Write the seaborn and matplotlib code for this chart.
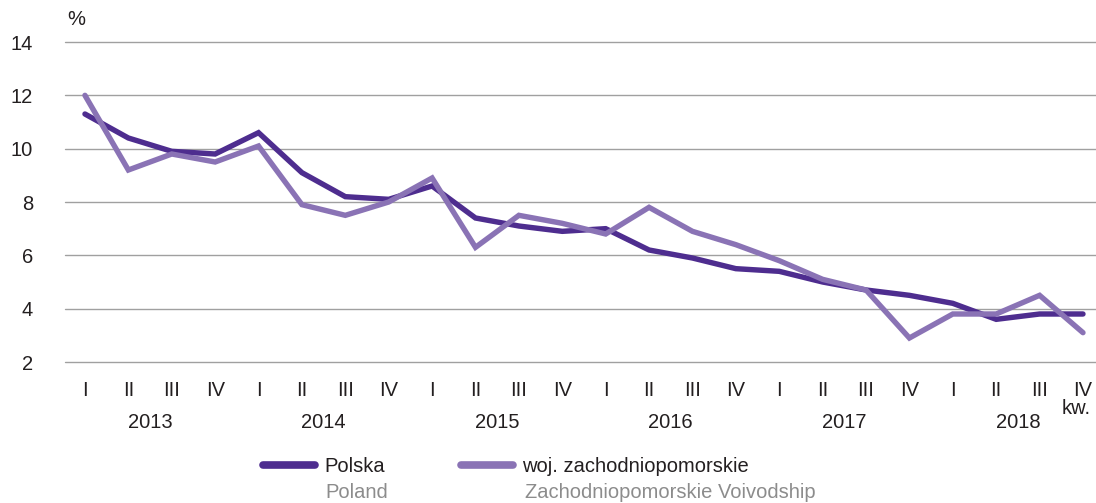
import matplotlib
matplotlib.use('Agg')
import matplotlib.pyplot as plt
import matplotlib.transforms as mtransforms
from matplotlib.lines import Line2D
import seaborn as sns
import numpy as np
import pandas as pd

# dane kwartalne 2013-2018
years = ['2013', '2014', '2015', '2016', '2017', '2018']
quarters = ['I', 'II', 'III', 'IV']
polska = [11.3, 10.4, 9.9, 9.8, 10.6, 9.1, 8.2, 8.1,
          8.6, 7.4, 7.1, 6.9, 7.0, 6.2, 5.9, 5.5,
          5.4, 5.0, 4.7, 4.5, 4.2, 3.6, 3.8, 3.8]
zachodniopomorskie = [12.0, 9.2, 9.8, 9.5, 10.1, 7.9, 7.5, 8.0,
                      8.9, 6.3, 7.5, 7.2, 6.8, 7.8, 6.9, 6.4,
                      5.8, 5.1, 4.7, 2.9, 3.8, 3.8, 4.5, 3.1]
series_names = ['Polska', 'woj. zachodniopomorskie']
series_names_en = ['Poland', 'Zachodniopomorskie Voivodship']
colors = ['#4e2d8f', '#8a73b5']

n = len(polska)
df = pd.DataFrame({
    'idx': list(range(n)) * 2,
    'value': polska + zachodniopomorskie,
    'series': [series_names[0]] * n + [series_names[1]] * n,
})

sns.set_theme(style='white')
fonts = ['Liberation Sans Narrow', 'Liberation Sans', 'DejaVu Sans']
plt.rcParams['font.family'] = fonts
fs = 14.5
txt_col = '#231f20'

fig = plt.figure(figsize=(10.96, 5.03), dpi=100)
ax = fig.add_axes([65 / 1096, 1 - 362 / 503, 1 - 65 / 1096, (362 - 42) / 503])

for y in range(2, 15, 2):
    ax.axhline(y, color='#a0a0a0', lw=1.0, zorder=0, clip_on=False)

sns.lineplot(data=df, x='idx', y='value', hue='series', palette=colors,
             hue_order=series_names, linewidth=3.9, ax=ax, legend=False,
             solid_capstyle='round', solid_joinstyle='miter', zorder=3)

ax.set_xlim(-0.46, n - 1 + 0.3)
ax.set_ylim(2, 14)
ax.set_yticks(range(2, 15, 2))
ax.set_yticklabels([str(v) for v in range(2, 15, 2)], fontsize=fs, color=txt_col)
ax.set_xticks(range(n))
ax.set_xticklabels(quarters * len(years), fontsize=fs, color=txt_col)
ax.tick_params(axis='x', length=0, pad=14)
ax.tick_params(axis='y', length=0, pad=23)
for s in ax.spines.values():
    s.set_visible(False)
ax.set_xlabel('')
ax.set_ylabel('')

trans = mtransforms.blended_transform_factory(ax.transData, ax.transAxes)
for i, yr in enumerate(years):
    ax.text(i * 4 + 1.5, -0.19, yr, transform=trans, ha='center', va='center',
            fontsize=fs, color=txt_col)
ax.text(n - 1 - 0.15, -0.145, 'kw.', transform=trans, ha='center', va='center',
        fontsize=fs, color=txt_col)
ax.text(-0.41, 1.07, '%', transform=trans, ha='left', va='center',
        fontsize=fs, color=txt_col)

# legenda
leg_x = [263 / 1096, 461 / 1096]
text_x = [325 / 1096, 525 / 1096]
for k in range(2):
    h = Line2D([], [], color=colors[k], lw=5.5, solid_capstyle='round')
    leg = fig.legend([h], [series_names[k]], loc='center left',
                     bbox_to_anchor=(leg_x[k], 1 - 467 / 503), frameon=False,
                     fontsize=fs, handlelength=2.6, handletextpad=0.45,
                     borderpad=0, borderaxespad=0)
    for t in leg.get_texts():
        t.set_color(txt_col)
    fig.text(text_x[k], 1 - 493 / 503, series_names_en[k], ha='left',
             va='center', fontsize=fs, color='#8c8c8c')

fig.savefig('out.png', dpi=100)
